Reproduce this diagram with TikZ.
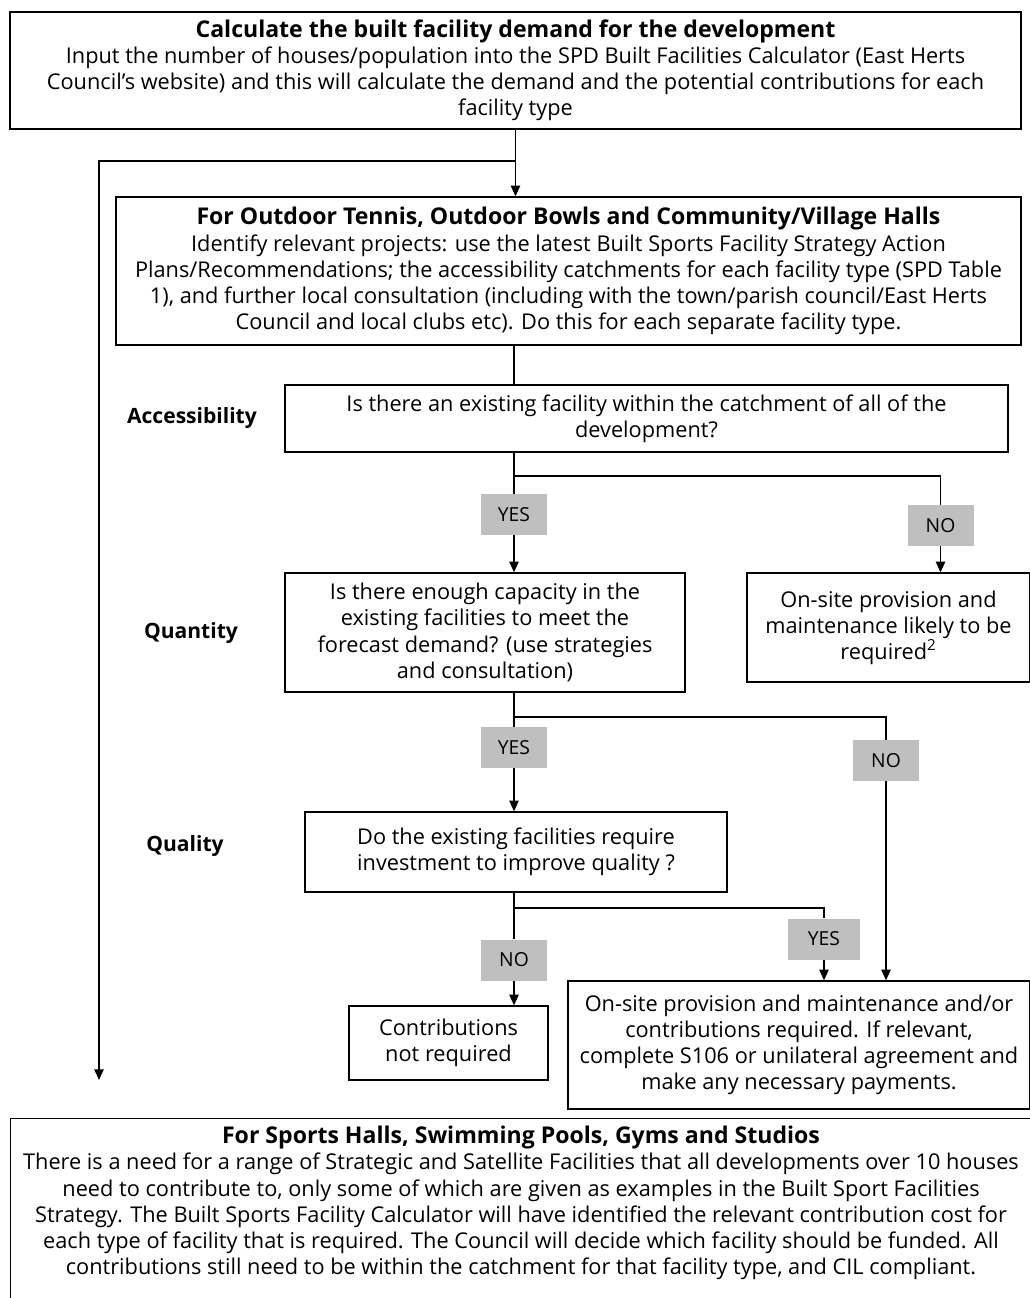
\documentclass[tikz,border=0pt]{standalone}
\usepackage{fontspec}
\setmainfont{Open Sans}
\usetikzlibrary{arrows.meta}
\definecolor{labgray}{RGB}{191,191,191}
\begin{document}
\begin{tikzpicture}[x=0.75pt,y=-0.75pt,
  box/.style={draw, line width=1pt, align=center, inner sep=0pt, font=\fontsize{16.3}{19.6}\selectfont},
  lab/.style={fill=labgray, minimum width=49.5pt, minimum height=30.75pt, inner sep=0pt, font=\fontsize{14.5}{16}\selectfont},
  side/.style={font=\fontsize{15.8}{18}\selectfont\bfseries},
  conn/.style={line width=1pt},
  arr/.style={conn, -{Triangle[length=8pt,width=7pt]}}]
\useasboundingbox (0,0) rectangle (1029,1298);

\newcommand{\ttlfont}{\fontsize{17.3}{19.6}\selectfont\bfseries}

% main boxes
\node[box, minimum width=758.25pt, minimum height=87.75pt] (box1) at (515.5,70.5)
 {{\ttlfont Calculate the built facility demand for the development}\\
  Input the number of houses/population into the SPD Built Facilities Calculator (East Herts\\
  Council’s website) and this will calculate the demand and the potential contributions for each\\
  facility type};

\node[box, minimum width=678.75pt, minimum height=111pt] (box2) at (568.5,271)
 {{\ttlfont For Outdoor Tennis, Outdoor Bowls and Community/Village Halls}\\
  Identify relevant projects: use the latest Built Sports Facility Strategy Action\\
  Plans/Recommendations; the accessibility catchments for each facility type (SPD Table\\
  1), and further local consultation (including with the town/parish council/East Herts\\
  Council and local clubs etc). Do this for each separate facility type.};

\node[box, minimum width=542.25pt, minimum height=50.25pt] (box3) at (646.5,418.5)
 {Is there an existing facility within the catchment of all of the\\ development?};

\node[box, minimum width=300pt, minimum height=89.25pt] (box4) at (485,632.5)
 {Is there enough capacity in the\\ existing facilities to meet the\\ forecast demand? (use strategies\\ and consultation)};

\node[box, minimum width=212.25pt, minimum height=81.75pt] (box5) at (888.5,627.5)
 {On-site provision and\\ maintenance likely to be\\ required\textsuperscript{2}};

\node[box, minimum width=316.5pt, minimum height=60pt] (box6) at (516,852)
 {Do the existing facilities require\\ investment to improve quality ?};

\node[box, minimum width=346.5pt, minimum height=96pt] (box7) at (799,1045)
 {On-site provision and maintenance and/or\\ contributions required. If relevant,\\ complete S106 or unilateral agreement and\\ make any necessary payments.};

\node[box, minimum width=149.25pt, minimum height=55.5pt] (box8) at (448.5,1043)
 {Contributions\\ not required};

\node[box, minimum width=766.5pt, minimum height=141pt, anchor=north west] (box9) at (10,1118) {};
\node[align=center, inner sep=0pt, font=\fontsize{16.3}{19.6}\selectfont] (box9text) at (521,1203)
 {{\ttlfont For Sports Halls, Swimming Pools, Gyms and Studios}\\
  There is a need for a range of Strategic and Satellite Facilities that all developments over 10 houses\\
  need to contribute to, only some of which are given as examples in the Built Sport Facilities\\
  Strategy. The Built Sports Facility Calculator will have identified the relevant contribution cost for\\
  each type of facility that is required. The Council will decide which facility should be funded. All\\
  contributions still need to be within the catchment for that facility type, and CIL compliant.};

% side labels
\node[side] (lacc) at (192,418) {Accessibility};
\node[side] (lqty) at (191,633) {Quantity};
\node[side] (lqly) at (185,846) {Quality};

% yes/no labels
\node[lab] (yes1) at (514,514.5) {YES};
\node[lab] (no1) at (940.5,525.5) {NO};
\node[lab] (yes2) at (514,747.5) {YES};
\node[lab] (no2) at (886,760.5) {NO};
\node[lab, minimum width=54pt] (yes3) at (824,939) {YES};
\node[lab] (no3) at (514,960) {NO};

% junction coordinates
\coordinate (j0) at (515.5,161);
\coordinate (leftend) at (99,1080);
\coordinate (j1) at (514,476);
\coordinate (j2) at (514,717);
\coordinate (j3) at (514,908);

% connectors
\draw[arr] (box1.south) -- (box1.south |- box2.north);
\draw[arr] (j0) -| (leftend);
\draw[conn] (box2.south -| yes1) -- (box3.north -| yes1);
\draw[conn] (box3.south -| yes1) -- (yes1.north);
\draw[arr] (yes1.south) -- (box4.north -| yes1);
\draw[conn] (j1) -| (no1.north);
\draw[arr] (no1.south) -- (box5.north -| no1);

\draw[conn] (box4.south -| yes2) -- (yes2.north);
\draw[arr] (yes2.south) -- (box6.north -| yes2);
\draw[conn] (j2) -| (no2.north);
\draw[arr] (no2.south) -- (box7.north -| no2);

\draw[conn] (box6.south -| no3) -- (no3.north);
\draw[arr] (no3.south) -- (box8.north -| no3);
\draw[conn] (j3) -| (yes3.north);
\draw[arr] (yes3.south) -- (box7.north -| yes3);
\end{tikzpicture}
\end{document}
